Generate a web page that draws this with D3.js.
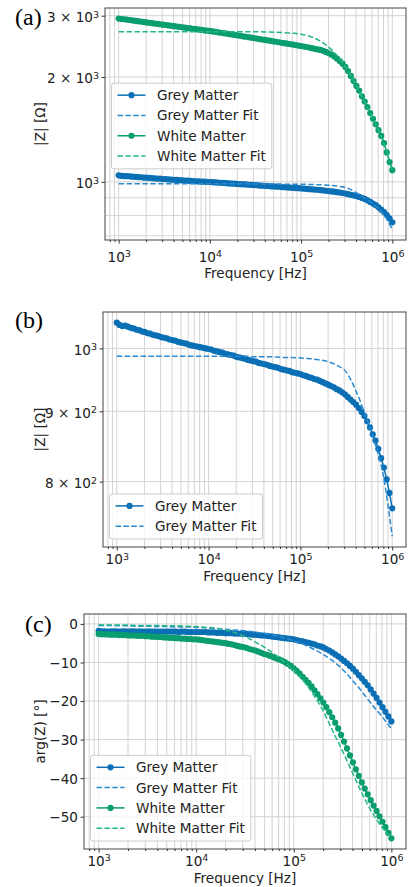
<!doctype html>
<html lang="en">
<head>
<meta charset="utf-8">
<title>Impedance of grey and white matter</title>
<script src="https://d3js.org/d3.v7.min.js"></script>
<style>
  body { margin: 0; background: #fff; }
  svg { display: block; }
</style>
</head>
<body>
<svg id="chart" width="408" height="887"></svg>
<script>
// measured frequencies [Hz]
const freq = [
  1000, 1072, 1150, 1233, 1322, 1417, 1520, 1630, 1748, 1874, 2009, 2154, 2310, 2477, 2656, 2848, 3054,
  3275, 3511, 3765, 4037, 4329, 4642, 4977, 5337, 5722, 6136, 6579, 7055, 7565, 8111, 8697, 9326,
  10000, 10723, 11498, 12328, 13219, 14175, 15199, 16298, 17475, 18738, 20092, 21544, 23101, 24771, 26561, 28480, 30539,
  32745, 35112, 37649, 40370, 43288, 46416, 49770, 53367, 57224, 61359, 65793, 70548, 75646, 81113, 86975, 93260,
  100000, 107227, 114976, 123285, 132194, 141747, 151991, 162975, 174753, 187382, 200923, 215443, 231013, 247708, 265609, 284804, 305386,
  327455, 351119, 376494, 403702, 432876, 464159, 497702, 533670, 572237, 613591, 657933, 705480, 756463, 811131, 869749, 932603,
  1000000
];
// frequencies of the fitted model curves [Hz]
const fitFreq = [
  1000, 1259, 1585, 1995, 2512, 3162, 3981, 5012, 6310, 7943,
  10000, 12589, 15849, 19953, 25119, 31623, 39811, 50119, 63096, 79433,
  100000, 125893, 158489, 199526, 251189, 316228, 398107, 501187, 630957, 794328, 1000000
];

// |Z| [Ohm]
const gmMag = [
  1044, 1040, 1038, 1039, 1037, 1035, 1034, 1032, 1031, 1029, 1028, 1026, 1025, 1023, 1022, 1021, 1019,
  1018, 1017, 1015, 1014, 1013, 1011, 1010, 1009, 1008, 1006, 1005, 1004, 1003, 1002, 1001, 1000, 999,
  998, 996, 995, 994, 993, 991, 990, 989, 988, 986, 985, 984, 983, 981, 980, 979, 978,
  976, 975, 974, 973, 971, 970, 969, 968, 966, 965, 964, 963, 961, 960, 959, 958,
  956, 955, 953, 952, 950, 949, 947, 945, 943, 941, 939, 937, 934, 932, 929, 926, 922,
  918, 914, 910, 905, 899, 893, 885, 876, 866, 857, 845, 832, 819, 803, 785, 765
];
const wmMag = [
  2944, 2935, 2930, 2924, 2916, 2908, 2900, 2893, 2885, 2878, 2870, 2863, 2856, 2849, 2842, 2835, 2828,
  2821, 2814, 2807, 2800, 2793, 2786, 2779, 2772, 2765, 2758, 2751, 2744, 2737, 2730, 2724, 2718, 2712,
  2704, 2696, 2688, 2680, 2673, 2665, 2657, 2649, 2641, 2634, 2626, 2618, 2610, 2602, 2595, 2587, 2579,
  2571, 2563, 2556, 2548, 2540, 2532, 2525, 2517, 2509, 2501, 2493, 2486, 2478, 2470, 2462, 2455,
  2447, 2439, 2430, 2420, 2410, 2400, 2392, 2378, 2361, 2340, 2318, 2290, 2258, 2222, 2185, 2138, 2080,
  2015, 1948, 1886, 1829, 1760, 1701, 1640, 1576, 1518, 1463, 1407, 1355, 1292, 1215, 1140, 1080
];
const gmMagFit = [
  987, 987, 987, 987, 987, 987, 987, 987, 987, 987, 987, 987, 987, 987, 987, 986,
  986, 986, 985, 985, 984, 983, 981, 978, 972, 961, 933, 897, 858, 810, 730
];
const wmMagFit = [
  2700, 2700, 2700, 2700, 2700, 2700, 2700, 2700, 2700, 2700, 2700, 2700, 2700, 2700, 2699, 2698,
  2695, 2690, 2683, 2672, 2655, 2615, 2545, 2440, 2295, 2115, 1900, 1685, 1495, 1305, 1085
];

// arg(Z) [deg]
const gmPhase = [
  -1.8, -1.9, -1.9, -2.0, -1.9, -1.9, -1.9, -2.0, -1.9, -1.9, -2.0, -1.9, -1.9, -2.0, -1.9, -2.0, -2.0,
  -1.9, -2.0, -2.0, -2.0, -2.0, -2.0, -2.0, -2.0, -2.0, -2.0, -2.1, -2.0, -2.0, -2.1, -2.1, -2.1, -2.1,
  -2.1, -2.1, -2.1, -2.2, -2.2, -2.2, -2.3, -2.3, -2.3, -2.4, -2.4, -2.4, -2.5, -2.5, -2.5, -2.6, -2.6,
  -2.7, -2.8, -2.8, -2.9, -3.0, -3.0, -3.1, -3.2, -3.3, -3.4, -3.5, -3.6, -3.7, -3.8, -3.9, -4.0,
  -4.2, -4.4, -4.5, -4.7, -4.9, -5.1, -5.3, -5.6, -5.8, -6.1, -6.5, -6.9, -7.4, -7.9, -8.4, -9.0, -9.6,
  -10.2, -10.9, -11.6, -12.4, -13.3, -14.1, -15.0, -15.9, -17.0, -18.1, -19.2, -20.4, -21.6, -22.8, -24.0, -25.3
];
const wmPhase = [
  -2.6, -2.7, -2.7, -2.7, -2.8, -2.8, -2.8, -2.9, -2.9, -2.9, -3.0, -3.0, -3.0, -3.1, -3.1, -3.1, -3.2,
  -3.2, -3.3, -3.3, -3.4, -3.4, -3.5, -3.5, -3.6, -3.6, -3.7, -3.7, -3.8, -3.8, -3.9, -3.9, -4.0, -4.0,
  -4.1, -4.2, -4.3, -4.4, -4.5, -4.6, -4.7, -4.8, -4.9, -5.0, -5.2, -5.3, -5.5, -5.7, -5.9, -6.0, -6.2,
  -6.5, -6.7, -6.9, -7.2, -7.5, -7.8, -8.0, -8.3, -8.6, -8.9, -9.2, -9.5, -9.9, -10.4, -10.9, -11.5,
  -12.2, -12.9, -13.7, -14.5, -15.3, -16.2, -17.2, -18.2, -19.3, -20.4, -21.6, -22.9, -24.2, -25.6, -27.1, -28.8, -30.5,
  -32.3, -34.1, -35.9, -37.7, -39.4, -41.1, -42.7, -44.2, -45.7, -47.1, -48.5, -49.9, -51.3, -52.7, -54.2, -55.6
];
const gmPhaseFit = [
  -0.4, -0.4, -0.5, -0.5, -0.6, -0.6, -0.7, -0.7, -0.8, -0.8, -0.9, -1.0, -1.2, -1.4, -1.6, -1.8,
  -2.1, -2.5, -3.0, -3.6, -4.4, -5.3, -6.5, -7.9, -9.6, -11.8, -14.6, -17.6, -20.9, -23.9, -27.2
];
const wmPhaseFit = [
  -0.2, -0.3, -0.3, -0.3, -0.4, -0.4, -0.4, -0.5, -0.5, -0.6, -0.7, -0.9, -1.1, -1.6, -2.3, -3.3,
  -4.6, -6.1, -7.8, -9.8, -12.0, -14.8, -18.3, -22.5, -27.8, -33.0, -38.5, -44.0, -48.8, -52.6, -55.4
];

// tick labels
const xTicks = [1e3, 1e4, 1e5, 1e6];
const xTickLabels = [["10", "3"], ["10", "4"], ["10", "5"], ["10", "6"]];
const magTicksA = [[1000, "10", "3"], [2000, "2 × 10", "3"], [3000, "3 × 10", "3"]];
const magTicksB = [[800, "8 × 10", "2"], [900, "9 × 10", "2"], [1000, "10", "3"]];
const phaseTicks = [[0, "0", ""], [-10, "−10", ""], [-20, "−20", ""], [-30, "−30", ""], [-40, "−40", ""], [-50, "−50", ""]];

const BLUE = "#0a6fb4", BLUE_FIT = "#2b8bd2";
const GREEN = "#0a9d6f", GREEN_FIT = "#25b884";
const FONT = '"DejaVu Sans", sans-serif';
const FS = 13.6;

const svg = d3.select("#chart");

const panels = [
  {
    letter: "(a)", lx: 15, ly: 25, left: 105, top: 8, right: 406, bottom: 240,
    yLog: true, yTicks: magTicksA, yLabel: "|Z| [Ω]", legend: "center", tickGap: 21.5, xlabGap: 38,
    series: [
      {name: "Grey Matter", x: freq, y: gmMag, color: BLUE},
      {name: "Grey Matter Fit", x: fitFreq, y: gmMagFit, color: BLUE_FIT, fit: true},
      {name: "White Matter", x: freq, y: wmMag, color: GREEN},
      {name: "White Matter Fit", x: fitFreq, y: wmMagFit, color: GREEN_FIT, fit: true}
    ]
  },
  {
    letter: "(b)", lx: 15, ly: 328, left: 103, top: 312, right: 406, bottom: 547,
    yLog: true, yTicks: magTicksB, yLabel: "|Z| [Ω]", legend: "lower", tickGap: 17, xlabGap: 34,
    series: [
      {name: "Grey Matter", x: freq, y: gmMag, color: BLUE},
      {name: "Grey Matter Fit", x: fitFreq, y: gmMagFit, color: BLUE_FIT, fit: true}
    ]
  },
  {
    letter: "(c)", lx: 25, ly: 632, left: 84, top: 614, right: 406, bottom: 849,
    yLog: false, yTicks: phaseTicks, yLabel: "arg(Z) [°]", legend: "lower", tickGap: 16.5, xlabGap: 34,
    series: [
      {name: "Grey Matter", x: freq, y: gmPhase, color: BLUE},
      {name: "Grey Matter Fit", x: fitFreq, y: gmPhaseFit, color: BLUE_FIT, fit: true},
      {name: "White Matter", x: freq, y: wmPhase, color: GREEN},
      {name: "White Matter Fit", x: fitFreq, y: wmPhaseFit, color: GREEN_FIT, fit: true}
    ]
  }
];

// 5 % margin like matplotlib autoscale
function pad(lo, hi) {
  const m = (hi - lo) * 0.05;
  return [lo - m, hi + m];
}

function supLabel(sel, base, sup) {
  sel.text(null);
  sel.append("tspan").text(base);
  if (sup) sel.append("tspan").attr("dy", "-0.45em").attr("font-size", "0.7em").text(sup);
}

function drawPanel(p, idx) {
  const g = svg.append("g").attr("font-family", FONT).attr("font-size", FS);

  const lxe = d3.extent(freq).map(Math.log10);
  const xd = pad(lxe[0], lxe[1]);
  const x = d3.scaleLog().domain([10 ** xd[0], 10 ** xd[1]]).range([p.left, p.right]);

  const ys = p.series.flatMap(s => s.y);
  let y;
  if (p.yLog) {
    const e = d3.extent(ys).map(Math.log10);
    const yd = pad(e[0], e[1]);
    y = d3.scaleLog().domain([10 ** yd[0], 10 ** yd[1]]).range([p.bottom, p.top]);
  } else {
    y = d3.scaleLinear().domain(pad(...d3.extent(ys))).range([p.bottom, p.top]);
  }

  const isDecade = v => Math.abs(Math.log10(v) - Math.round(Math.log10(v))) < 1e-9;
  const xAll = x.ticks();
  const xMinor = xAll.filter(v => !isDecade(v));
  const yGrid = p.yLog ? y.ticks(4) : p.yTicks.map(t => t[0]);

  // grid
  const grid = g.append("g").attr("stroke", "#d3d3d3").attr("stroke-width", 1);
  grid.selectAll("line.gx").data(xAll).join("line").attr("class", "gx")
    .attr("x1", d => x(d)).attr("x2", d => x(d)).attr("y1", p.top).attr("y2", p.bottom);
  grid.selectAll("line.gy").data(yGrid).join("line").attr("class", "gy")
    .attr("x1", p.left).attr("x2", p.right).attr("y1", d => y(d)).attr("y2", d => y(d));

  // data
  const clipId = "clip" + idx;
  g.append("clipPath").attr("id", clipId).append("rect")
    .attr("x", p.left).attr("y", p.top).attr("width", p.right - p.left).attr("height", p.bottom - p.top);
  const plot = g.append("g").attr("clip-path", `url(#${clipId})`);
  p.series.forEach(s => {
    const pts = s.x.map((f, i) => [f, s.y[i]]);
    const line = d3.line().x(d => x(d[0])).y(d => y(d[1]));
    if (s.fit) line.curve(d3.curveMonotoneX);
    plot.append("path").datum(pts).attr("d", line)
      .attr("fill", "none").attr("stroke", s.color).attr("stroke-width", 1.5)
      .attr("stroke-dasharray", s.fit ? "5.5,2.4" : null);
    if (!s.fit) {
      plot.append("g").selectAll("circle").data(pts).join("circle")
        .attr("cx", d => x(d[0])).attr("cy", d => y(d[1])).attr("r", 3.1).attr("fill", s.color);
    }
  });

  // spines
  g.append("rect").attr("x", p.left).attr("y", p.top)
    .attr("width", p.right - p.left).attr("height", p.bottom - p.top)
    .attr("fill", "none").attr("stroke", "#444").attr("stroke-width", 1);

  // x axis
  const xMin = g.append("g").attr("transform", `translate(0,${p.bottom})`)
    .call(d3.axisBottom(x).tickValues(xMinor).tickSize(2).tickFormat(""));
  xMin.select(".domain").remove();
  xMin.selectAll("text").remove();
  const xa = g.append("g").attr("transform", `translate(0,${p.bottom})`)
    .call(d3.axisBottom(x).tickValues(xTicks).tickSize(3.5).tickFormat(""));
  xa.select(".domain").remove();
  [xMin, xa].forEach(a => a.attr("font-size", null).attr("font-family", null).attr("color", "#333"));
  xa.selectAll(".tick text").attr("y", p.tickGap).attr("dy", null).attr("fill", "#222")
    .each(function (d) {
      const lab = xTickLabels[xTicks.indexOf(d)];
      supLabel(d3.select(this), lab[0], lab[1]);
    });

  // y axis
  const ya = g.append("g").attr("transform", `translate(${p.left},0)`)
    .call(d3.axisLeft(y).tickValues(p.yTicks.map(t => t[0])).tickSize(3.5).tickFormat(""));
  ya.select(".domain").remove();
  ya.attr("font-size", null).attr("font-family", null).attr("color", "#333");
  ya.selectAll(".tick text").attr("x", -6).attr("fill", "#222")
    .each(function (d) {
      const lab = p.yTicks.find(t => t[0] === d);
      d3.select(this).attr("dy", lab[2] ? "0.42em" : "0.36em");
      supLabel(d3.select(this), lab[1], lab[2]);
    });

  // axis labels
  g.append("text").attr("x", (p.left + p.right) / 2).attr("y", p.bottom + p.xlabGap)
    .attr("text-anchor", "middle").attr("fill", "#222").text("Frequency [Hz]");
  g.append("text").attr("transform", `translate(40,${(p.top + p.bottom) / 2}) rotate(-90)`)
    .attr("text-anchor", "middle").attr("dy", "0.36em").attr("fill", "#222").text(p.yLabel);

  // panel letter
  svg.append("text").attr("x", p.lx).attr("y", p.ly)
    .attr("font-family", '"Liberation Serif", "Times New Roman", serif').attr("font-size", 24)
    .attr("fill", "#000").text(p.letter);

  // legend
  const n = p.series.length, rowH = 20.3;
  const h = n * rowH + 4.5;
  const top = p.legend === "center" ? (p.top + p.bottom) / 2 + 2 - h / 2 : p.bottom - 8 - h;
  const left = p.left + 6.5;
  const lg = g.append("g");
  const box = lg.append("rect").attr("x", left).attr("y", top).attr("height", h)
    .attr("rx", 2.5).attr("fill", "#fff").attr("fill-opacity", 0.8)
    .attr("stroke", "#cccccc").attr("stroke-width", 1);
  let maxW = 0;
  p.series.forEach((s, i) => {
    const cy = top + 12 + i * rowH;
    lg.append("line").attr("x1", left + 6).attr("x2", left + 34).attr("y1", cy).attr("y2", cy)
      .attr("stroke", s.color).attr("stroke-width", 1.5)
      .attr("stroke-dasharray", s.fit ? "5.5,2.4" : null);
    if (!s.fit) lg.append("circle").attr("cx", left + 20).attr("cy", cy).attr("r", 3.1).attr("fill", s.color);
    const t = lg.append("text").attr("x", left + 45.5).attr("y", cy + 5).attr("fill", "#222").text(s.name);
    maxW = Math.max(maxW, t.node().getComputedTextLength());
  });
  box.attr("width", 45.5 + maxW + 6);
}

panels.forEach(drawPanel);
</script>
</body>
</html>
